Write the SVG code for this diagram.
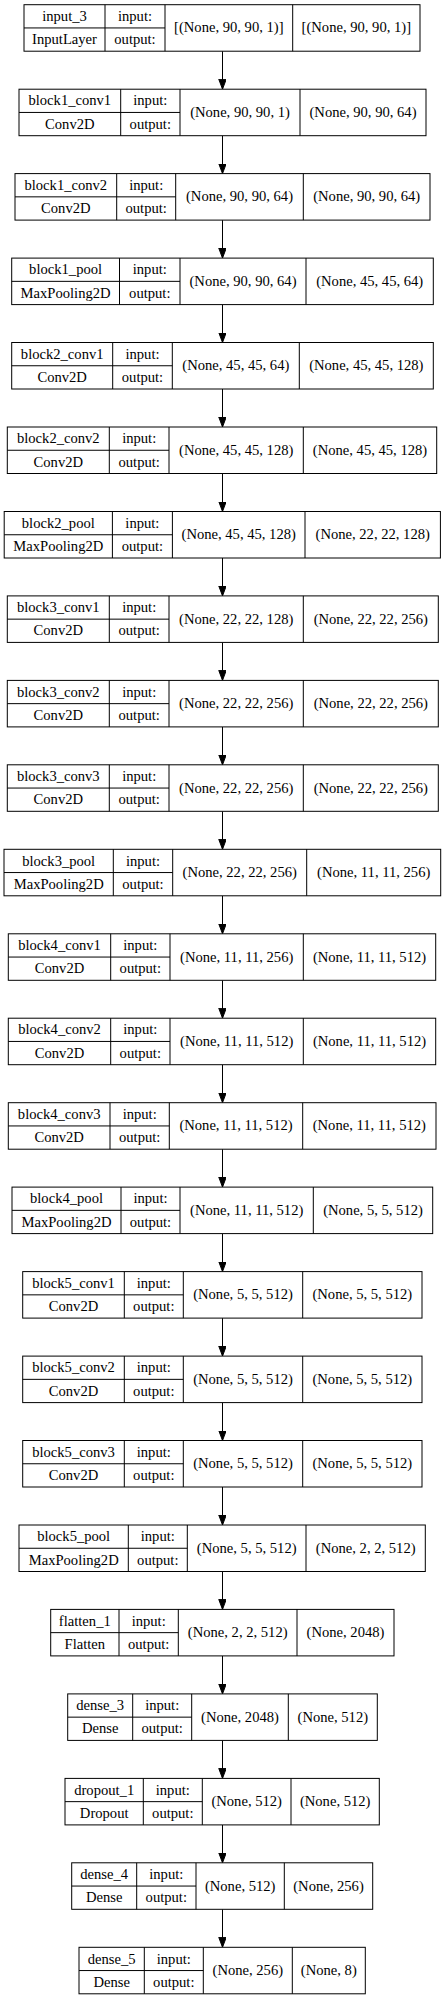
<svg xmlns="http://www.w3.org/2000/svg" width="446" height="1999" viewBox="0 0 446 1999">
<style>
.b{fill:#fff;stroke:#000;stroke-width:1}
.l{stroke:#000;stroke-width:1;fill:none}
text{font-family:"Liberation Serif","Times New Roman",serif;font-size:14.6px;text-anchor:middle;fill:#000}
.e{stroke:#000;stroke-width:1;fill:none;marker-end:url(#arr)}
</style>
<defs>
<marker id="arr" markerUnits="userSpaceOnUse" markerWidth="10" markerHeight="8" refX="10" refY="3.75" orient="auto"><path d="M0,0 L10,3.75 L0,7.5 z" fill="#000" stroke="#000" stroke-width="1"/></marker>
</defs>
<rect width="446" height="1999" fill="#fff"/>
<g id="connectors">
<line class="e" x1="222.5" y1="51.2" x2="222.5" y2="89.2"/>
<line class="e" x1="222.5" y1="135.7" x2="222.5" y2="173.6"/>
<line class="e" x1="222.5" y1="220.1" x2="222.5" y2="258.1"/>
<line class="e" x1="222.5" y1="304.6" x2="222.5" y2="342.5"/>
<line class="e" x1="222.5" y1="389.0" x2="222.5" y2="427.0"/>
<line class="e" x1="222.5" y1="473.5" x2="222.5" y2="511.5"/>
<line class="e" x1="222.5" y1="558.0" x2="222.5" y2="595.9"/>
<line class="e" x1="222.5" y1="642.4" x2="222.5" y2="680.4"/>
<line class="e" x1="222.5" y1="726.9" x2="222.5" y2="764.8"/>
<line class="e" x1="222.5" y1="811.3" x2="222.5" y2="849.3"/>
<line class="e" x1="222.5" y1="895.8" x2="222.5" y2="933.8"/>
<line class="e" x1="222.5" y1="980.3" x2="222.5" y2="1018.2"/>
<line class="e" x1="222.5" y1="1064.7" x2="222.5" y2="1102.7"/>
<line class="e" x1="222.5" y1="1149.2" x2="222.5" y2="1187.1"/>
<line class="e" x1="222.5" y1="1233.6" x2="222.5" y2="1271.6"/>
<line class="e" x1="222.5" y1="1318.1" x2="222.5" y2="1356.1"/>
<line class="e" x1="222.5" y1="1402.6" x2="222.5" y2="1440.5"/>
<line class="e" x1="222.5" y1="1487.0" x2="222.5" y2="1525.0"/>
<line class="e" x1="222.5" y1="1571.5" x2="222.5" y2="1609.4"/>
<line class="e" x1="222.5" y1="1655.9" x2="222.5" y2="1693.9"/>
<line class="e" x1="222.5" y1="1740.4" x2="222.5" y2="1778.4"/>
<line class="e" x1="222.5" y1="1824.9" x2="222.5" y2="1862.8"/>
<line class="e" x1="222.5" y1="1909.3" x2="222.5" y2="1947.3"/>
</g>

<g id="input_3" transform="translate(0,4.7)">
<rect class="b" x="24" y="0" width="396" height="46.5"/>
<path class="l" d="M105,0V46.5M165,0V46.5M292.7,0V46.5M24,23.25H165"/>
<text x="64.5" y="16.3">input_3</text><text x="64.5" y="39.5">InputLayer</text>
<text x="135" y="16.3">input:</text><text x="135" y="39.5">output:</text>
<text x="228.8" y="27.8">[(None, 90, 90, 1)]</text><text x="356.3" y="27.8">[(None, 90, 90, 1)]</text>
</g>

<g id="block1_conv1" transform="translate(0,89.2)">
<rect class="b" x="19" y="0" width="407" height="46.5"/>
<path class="l" d="M120.7,0V46.5M180,0V46.5M300,0V46.5M19,23.25H180"/>
<text x="69.8" y="16.3">block1_conv1</text><text x="69.8" y="39.5">Conv2D</text>
<text x="150.3" y="16.3">input:</text><text x="150.3" y="39.5">output:</text>
<text x="240" y="27.8">(None, 90, 90, 1)</text><text x="363" y="27.8">(None, 90, 90, 64)</text>
</g>

<g id="block1_conv2" transform="translate(0,173.6)">
<rect class="b" x="15" y="0" width="415" height="46.5"/>
<path class="l" d="M116.7,0V46.5M175.7,0V46.5M303.3,0V46.5M15,23.25H175.7"/>
<text x="65.8" y="16.3">block1_conv2</text><text x="65.8" y="39.5">Conv2D</text>
<text x="146.2" y="16.3">input:</text><text x="146.2" y="39.5">output:</text>
<text x="239.5" y="27.8">(None, 90, 90, 64)</text><text x="366.7" y="27.8">(None, 90, 90, 64)</text>
</g>

<g id="block1_pool" transform="translate(0,258.1)">
<rect class="b" x="11.7" y="0" width="421.6" height="46.5"/>
<path class="l" d="M119.5,0V46.5M180,0V46.5M306,0V46.5M11.7,23.25H180"/>
<text x="65.6" y="16.3">block1_pool</text><text x="65.6" y="39.5">MaxPooling2D</text>
<text x="149.8" y="16.3">input:</text><text x="149.8" y="39.5">output:</text>
<text x="243" y="27.8">(None, 90, 90, 64)</text><text x="369.7" y="27.8">(None, 45, 45, 64)</text>
</g>

<g id="block2_conv1" transform="translate(0,342.5)">
<rect class="b" x="11.7" y="0" width="421.6" height="46.5"/>
<path class="l" d="M112.7,0V46.5M172.3,0V46.5M299.3,0V46.5M11.7,23.25H172.3"/>
<text x="62.2" y="16.3">block2_conv1</text><text x="62.2" y="39.5">Conv2D</text>
<text x="142.5" y="16.3">input:</text><text x="142.5" y="39.5">output:</text>
<text x="235.8" y="27.8">(None, 45, 45, 64)</text><text x="366.3" y="27.8">(None, 45, 45, 128)</text>
</g>

<g id="block2_conv2" transform="translate(0,427)">
<rect class="b" x="7.3" y="0" width="429.4" height="46.5"/>
<path class="l" d="M109.3,0V46.5M169,0V46.5M303.3,0V46.5M7.3,23.25H169"/>
<text x="58.3" y="16.3">block2_conv2</text><text x="58.3" y="39.5">Conv2D</text>
<text x="139.2" y="16.3">input:</text><text x="139.2" y="39.5">output:</text>
<text x="236.2" y="27.8">(None, 45, 45, 128)</text><text x="370" y="27.8">(None, 45, 45, 128)</text>
</g>

<g id="block2_pool" transform="translate(0,511.5)">
<rect class="b" x="4.2" y="0" width="436.2" height="46.5"/>
<path class="l" d="M112.4,0V46.5M172.4,0V46.5M305,0V46.5M4.2,23.25H172.4"/>
<text x="58.3" y="16.3">block2_pool</text><text x="58.3" y="39.5">MaxPooling2D</text>
<text x="142.4" y="16.3">input:</text><text x="142.4" y="39.5">output:</text>
<text x="238.7" y="27.8">(None, 45, 45, 128)</text><text x="372.7" y="27.8">(None, 22, 22, 128)</text>
</g>

<g id="block3_conv1" transform="translate(0,595.9)">
<rect class="b" x="7.3" y="0" width="431" height="46.5"/>
<path class="l" d="M109.3,0V46.5M169,0V46.5M303.3,0V46.5M7.3,23.25H169"/>
<text x="58.3" y="16.3">block3_conv1</text><text x="58.3" y="39.5">Conv2D</text>
<text x="139.2" y="16.3">input:</text><text x="139.2" y="39.5">output:</text>
<text x="236.2" y="27.8">(None, 22, 22, 128)</text><text x="370.8" y="27.8">(None, 22, 22, 256)</text>
</g>

<g id="block3_conv2" transform="translate(0,680.4)">
<rect class="b" x="7.3" y="0" width="431" height="46.5"/>
<path class="l" d="M109.3,0V46.5M169,0V46.5M303.3,0V46.5M7.3,23.25H169"/>
<text x="58.3" y="16.3">block3_conv2</text><text x="58.3" y="39.5">Conv2D</text>
<text x="139.2" y="16.3">input:</text><text x="139.2" y="39.5">output:</text>
<text x="236.2" y="27.8">(None, 22, 22, 256)</text><text x="370.8" y="27.8">(None, 22, 22, 256)</text>
</g>

<g id="block3_conv3" transform="translate(0,764.8)">
<rect class="b" x="7.3" y="0" width="431" height="46.5"/>
<path class="l" d="M109.3,0V46.5M169,0V46.5M303.3,0V46.5M7.3,23.25H169"/>
<text x="58.3" y="16.3">block3_conv3</text><text x="58.3" y="39.5">Conv2D</text>
<text x="139.2" y="16.3">input:</text><text x="139.2" y="39.5">output:</text>
<text x="236.2" y="27.8">(None, 22, 22, 256)</text><text x="370.8" y="27.8">(None, 22, 22, 256)</text>
</g>

<g id="block3_pool" transform="translate(0,849.3)">
<rect class="b" x="4" y="0" width="436.7" height="46.5"/>
<path class="l" d="M113.3,0V46.5M172.7,0V46.5M306.7,0V46.5M4,23.25H172.7"/>
<text x="58.7" y="16.3">block3_pool</text><text x="58.7" y="39.5">MaxPooling2D</text>
<text x="143" y="16.3">input:</text><text x="143" y="39.5">output:</text>
<text x="239.7" y="27.8">(None, 22, 22, 256)</text><text x="373.7" y="27.8">(None, 11, 11, 256)</text>
</g>

<g id="block4_conv1" transform="translate(0,933.8)">
<rect class="b" x="8.3" y="0" width="427.4" height="46.5"/>
<path class="l" d="M110.7,0V46.5M170,0V46.5M303.3,0V46.5M8.3,23.25H170"/>
<text x="59.5" y="16.3">block4_conv1</text><text x="59.5" y="39.5">Conv2D</text>
<text x="140.3" y="16.3">input:</text><text x="140.3" y="39.5">output:</text>
<text x="236.7" y="27.8">(None, 11, 11, 256)</text><text x="369.5" y="27.8">(None, 11, 11, 512)</text>
</g>

<g id="block4_conv2" transform="translate(0,1018.2)">
<rect class="b" x="8.3" y="0" width="427.4" height="46.5"/>
<path class="l" d="M110.7,0V46.5M170,0V46.5M303.3,0V46.5M8.3,23.25H170"/>
<text x="59.5" y="16.3">block4_conv2</text><text x="59.5" y="39.5">Conv2D</text>
<text x="140.3" y="16.3">input:</text><text x="140.3" y="39.5">output:</text>
<text x="236.7" y="27.8">(None, 11, 11, 512)</text><text x="369.5" y="27.8">(None, 11, 11, 512)</text>
</g>

<g id="block4_conv3" transform="translate(0,1102.7)">
<rect class="b" x="8.3" y="0" width="427.7" height="46.5"/>
<path class="l" d="M110,0V46.5M169.3,0V46.5M302.7,0V46.5M8.3,23.25H169.3"/>
<text x="59.2" y="16.3">block4_conv3</text><text x="59.2" y="39.5">Conv2D</text>
<text x="139.7" y="16.3">input:</text><text x="139.7" y="39.5">output:</text>
<text x="236" y="27.8">(None, 11, 11, 512)</text><text x="369.3" y="27.8">(None, 11, 11, 512)</text>
</g>

<g id="block4_pool" transform="translate(0,1187.1)">
<rect class="b" x="12" y="0" width="420.7" height="46.5"/>
<path class="l" d="M121,0V46.5M180,0V46.5M313.3,0V46.5M12,23.25H180"/>
<text x="66.5" y="16.3">block4_pool</text><text x="66.5" y="39.5">MaxPooling2D</text>
<text x="150.5" y="16.3">input:</text><text x="150.5" y="39.5">output:</text>
<text x="246.7" y="27.8">(None, 11, 11, 512)</text><text x="373" y="27.8">(None, 5, 5, 512)</text>
</g>

<g id="block5_conv1" transform="translate(0,1271.6)">
<rect class="b" x="22.7" y="0" width="399.3" height="46.5"/>
<path class="l" d="M124.3,0V46.5M183.3,0V46.5M302.7,0V46.5M22.7,23.25H183.3"/>
<text x="73.5" y="16.3">block5_conv1</text><text x="73.5" y="39.5">Conv2D</text>
<text x="153.8" y="16.3">input:</text><text x="153.8" y="39.5">output:</text>
<text x="243" y="27.8">(None, 5, 5, 512)</text><text x="362.3" y="27.8">(None, 5, 5, 512)</text>
</g>

<g id="block5_conv2" transform="translate(0,1356.1)">
<rect class="b" x="22.7" y="0" width="399.3" height="46.5"/>
<path class="l" d="M124.3,0V46.5M183.3,0V46.5M302.7,0V46.5M22.7,23.25H183.3"/>
<text x="73.5" y="16.3">block5_conv2</text><text x="73.5" y="39.5">Conv2D</text>
<text x="153.8" y="16.3">input:</text><text x="153.8" y="39.5">output:</text>
<text x="243" y="27.8">(None, 5, 5, 512)</text><text x="362.3" y="27.8">(None, 5, 5, 512)</text>
</g>

<g id="block5_conv3" transform="translate(0,1440.5)">
<rect class="b" x="22.7" y="0" width="399.3" height="46.5"/>
<path class="l" d="M124.3,0V46.5M183.3,0V46.5M302.7,0V46.5M22.7,23.25H183.3"/>
<text x="73.5" y="16.3">block5_conv3</text><text x="73.5" y="39.5">Conv2D</text>
<text x="153.8" y="16.3">input:</text><text x="153.8" y="39.5">output:</text>
<text x="243" y="27.8">(None, 5, 5, 512)</text><text x="362.3" y="27.8">(None, 5, 5, 512)</text>
</g>

<g id="block5_pool" transform="translate(0,1525)">
<rect class="b" x="19" y="0" width="406.3" height="46.5"/>
<path class="l" d="M128.3,0V46.5M187.3,0V46.5M306,0V46.5M19,23.25H187.3"/>
<text x="73.7" y="16.3">block5_pool</text><text x="73.7" y="39.5">MaxPooling2D</text>
<text x="157.8" y="16.3">input:</text><text x="157.8" y="39.5">output:</text>
<text x="246.7" y="27.8">(None, 5, 5, 512)</text><text x="365.7" y="27.8">(None, 2, 2, 512)</text>
</g>

<g id="flatten_1" transform="translate(0,1609.4)">
<rect class="b" x="50.7" y="0" width="343.3" height="46.5"/>
<path class="l" d="M119,0V46.5M178.3,0V46.5M297,0V46.5M50.7,23.25H178.3"/>
<text x="84.8" y="16.3">flatten_1</text><text x="84.8" y="39.5">Flatten</text>
<text x="148.7" y="16.3">input:</text><text x="148.7" y="39.5">output:</text>
<text x="237.7" y="27.8">(None, 2, 2, 512)</text><text x="345.5" y="27.8">(None, 2048)</text>
</g>

<g id="dense_3" transform="translate(0,1693.9)">
<rect class="b" x="67.7" y="0" width="309.6" height="46.5"/>
<path class="l" d="M132.7,0V46.5M191.7,0V46.5M288.3,0V46.5M67.7,23.25H191.7"/>
<text x="100.2" y="16.3">dense_3</text><text x="100.2" y="39.5">Dense</text>
<text x="162.2" y="16.3">input:</text><text x="162.2" y="39.5">output:</text>
<text x="240" y="27.8">(None, 2048)</text><text x="332.8" y="27.8">(None, 512)</text>
</g>

<g id="dropout_1" transform="translate(0,1778.4)">
<rect class="b" x="65" y="0" width="314.3" height="46.5"/>
<path class="l" d="M143.3,0V46.5M202.3,0V46.5M291,0V46.5M65,23.25H202.3"/>
<text x="104.2" y="16.3">dropout_1</text><text x="104.2" y="39.5">Dropout</text>
<text x="172.8" y="16.3">input:</text><text x="172.8" y="39.5">output:</text>
<text x="246.7" y="27.8">(None, 512)</text><text x="335.2" y="27.8">(None, 512)</text>
</g>

<g id="dense_4" transform="translate(0,1862.8)">
<rect class="b" x="71.7" y="0" width="301" height="46.5"/>
<path class="l" d="M136.7,0V46.5M196,0V46.5M284.3,0V46.5M71.7,23.25H196"/>
<text x="104.2" y="16.3">dense_4</text><text x="104.2" y="39.5">Dense</text>
<text x="166.3" y="16.3">input:</text><text x="166.3" y="39.5">output:</text>
<text x="240.2" y="27.8">(None, 512)</text><text x="328.5" y="27.8">(None, 256)</text>
</g>

<g id="dense_5" transform="translate(0,1947.3)">
<rect class="b" x="79" y="0" width="286.3" height="46.5"/>
<path class="l" d="M144.3,0V46.5M203.3,0V46.5M292.3,0V46.5M79,23.25H203.3"/>
<text x="111.7" y="16.3">dense_5</text><text x="111.7" y="39.5">Dense</text>
<text x="173.8" y="16.3">input:</text><text x="173.8" y="39.5">output:</text>
<text x="247.8" y="27.8">(None, 256)</text><text x="328.8" y="27.8">(None, 8)</text>
</g>
</svg>
